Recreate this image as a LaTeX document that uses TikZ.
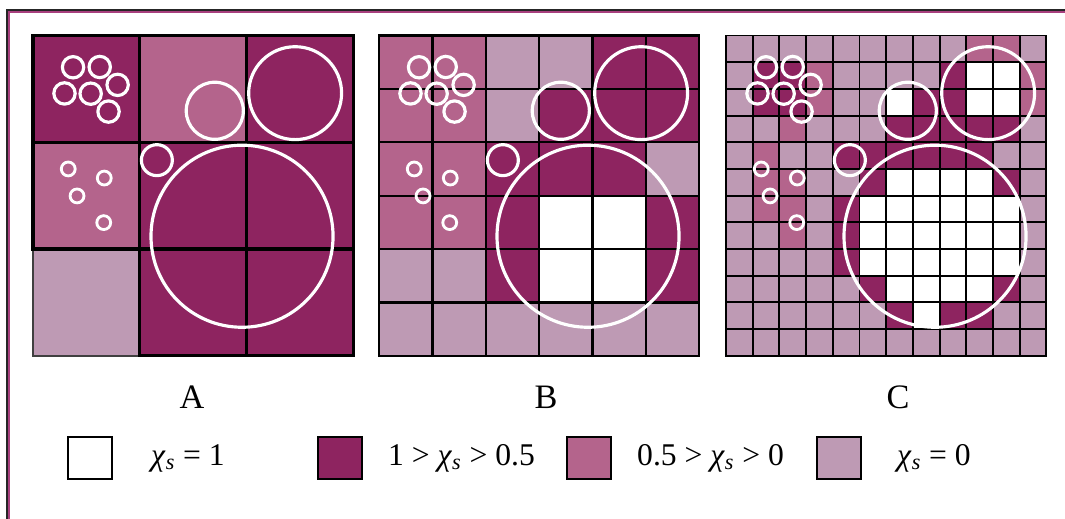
\documentclass[tikz,border=0pt]{standalone}
\usepackage{fontspec}
\setmainfont{Liberation Serif}
\usetikzlibrary{positioning}

\definecolor{D}{HTML}{8E2460}
\definecolor{M}{HTML}{B4648C}
\definecolor{L}{HTML}{BE9AB4}
\colorlet{W}{white}
\definecolor{framepink}{HTML}{A8407E}

\newcommand{\chis}{\textit{χ}\textsubscript{\textit{s}}}

\tikzset{
  bubble/.style={draw=white, line width=1.8pt},
  gridline/.style={draw=black, line width=1.1pt, line cap=rect},
  legbox/.style={draw=black, line width=1pt, minimum width=0.88cm, minimum height=0.84cm, inner sep=0pt},
  legtext/.style={inner sep=0pt, font=\fontsize{18}{18}\selectfont},
  panellabel/.style={font=\fontsize{19.5}{19.5}\selectfont}
}

\begin{document}
\begin{tikzpicture}[x=0.02cm, y=-0.02cm]
\useasboundingbox (0,0) rectangle (1065,519);
% frame
\draw[black!85, line width=1.1pt] (7,519) |- (1065,10);
\draw[framepink, line width=1.1pt] (9.2,519) |- (1065,12.2);
% panel A
\begin{scope}[shift={(33,35.5)}, x=0.534cm, y=-0.534cm]
\foreach \cells [count=\r from 0] in {{D,M,D},{M,D,D},{L,D,D}}
  \foreach \c [count=\k from 0] in \cells
    \fill[fill=\c] (4*\k,4*\r) rectangle ++(4,4);
\draw[gridline, line width=0.9pt, draw=black!75] (0,8) rectangle (4,12);
\draw[gridline, line width=1.8pt] (0,8) -- (0,0) -- (12,0) -- (12,12) -- (4,12)
  (4,0) -- (4,12) (8,0) -- (8,12) (0,4) -- (12,4) (0,8) -- (12,8);
\end{scope}
% panel B
\begin{scope}[shift={(379,35.5)}, x=0.534cm, y=-0.534cm]
\foreach \cells [count=\r from 0] in {{M,M,L,L,D,D},{M,M,L,D,D,D},{M,M,D,D,D,L},
    {M,M,D,W,W,D},{L,L,D,W,W,D},{L,L,L,L,L,L}}
  \foreach \c [count=\k from 0] in \cells
    \fill[fill=\c] (2*\k,2*\r) rectangle ++(2,2);
\foreach \i in {0,2,...,12}
  \draw[gridline, line width=1.3pt] (\i,0) -- (\i,12) (0,\i) -- (12,\i);
\end{scope}
% panel C
\begin{scope}[shift={(726,35.5)}, x=0.534cm, y=-0.534cm]
\foreach \cells [count=\r from 0] in {
    {L,L,L,L,L,L,L,L,L,M,M,L},
    {L,D,D,M,L,L,L,L,D,W,W,M},
    {L,D,D,M,L,L,W,D,D,W,W,M},
    {L,L,M,L,L,L,D,D,D,D,D,L},
    {L,M,L,L,D,D,D,D,D,D,L,L},
    {L,M,M,L,L,D,W,W,W,W,D,L},
    {L,M,M,L,D,W,W,W,W,W,W,L},
    {L,L,M,L,D,W,W,W,W,W,W,L},
    {L,L,L,L,D,W,W,W,W,W,W,L},
    {L,L,L,L,L,D,W,W,W,W,D,L},
    {L,L,L,L,L,L,D,W,D,D,L,L},
    {L,L,L,L,L,L,L,L,L,L,L,L}}
  \foreach \c [count=\k from 0] in \cells
    \fill[fill=\c] (\k,\r) rectangle ++(1,1);
\foreach \i in {0,...,12}
  \draw[gridline] (\i,0) -- (\i,12) (0,\i) -- (12,\i);
\end{scope}
% particles, same in every panel
\foreach \px in {33,379,726} {
  \begin{scope}[shift={(\px,35.5)}, x=0.534cm, y=-0.534cm]
  \draw[bubble] (7.83,7.52) circle[radius=3.41];
  \draw[bubble] (9.82,2.16) circle[radius=1.74];
  \draw[bubble] (6.81,2.82) circle[radius=1.07];
  \draw[bubble] (4.64,4.67) circle[radius=0.58];
  \foreach \bx/\by in {1.50/1.19, 2.50/1.18, 3.17/1.85, 1.18/2.17, 2.16/2.18, 2.83/2.85}
    \draw[bubble] (\bx,\by) circle[radius=0.40];
  \foreach \bx/\by in {1.32/5.00, 2.67/5.34, 1.65/6.01, 2.65/7.01}
    \draw[bubble, line width=1.6pt] (\bx,\by) circle[radius=0.26];
  \end{scope}
}
% panel labels
\node[panellabel] (labA) at (192,397) {A};
\node[panellabel] (labB) at (546,397) {B};
\node[panellabel] (labC) at (898,397) {C};
% legend
\node[legbox, fill=W] (keyW) at (90,458) {};
\node[legtext, right=0.76cm of keyW] (txtW) {\chis{} = 1};
\node[legbox, fill=D] (keyD) at (340,458) {};
\node[legtext, right=0.5cm of keyD] (txtD) {1 > \chis{} > 0.5};
\node[legbox, fill=M] (keyM) at (589,458) {};
\node[legtext, right=0.5cm of keyM] (txtM) {0.5 > \chis{} > 0};
\node[legbox, fill=L] (keyL) at (839,458) {};
\node[legtext, right=0.7cm of keyL] (txtL) {\chis{} = 0};
\end{tikzpicture}
\end{document}
